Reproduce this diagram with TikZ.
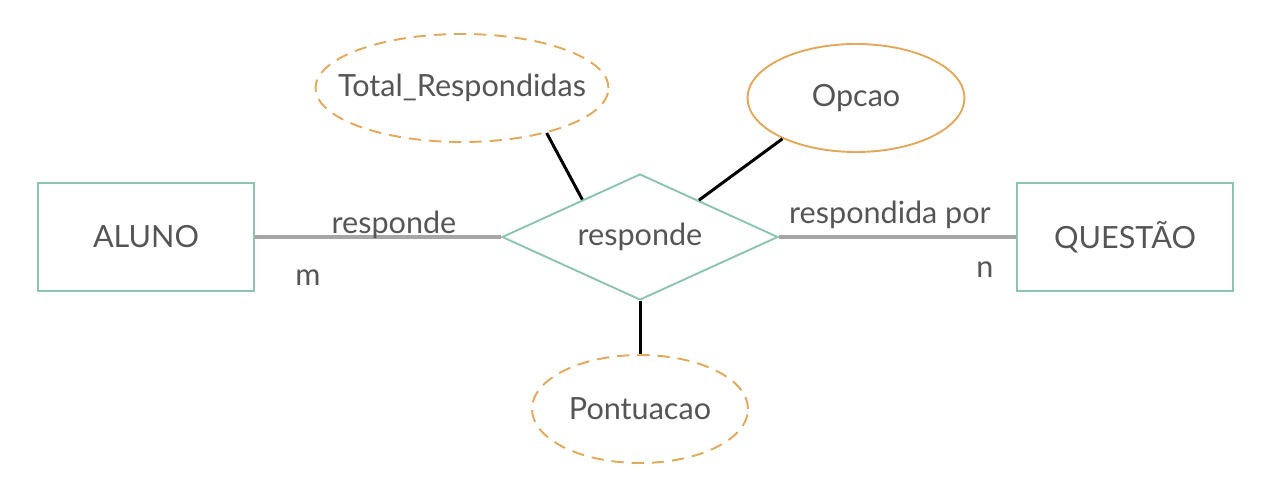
\documentclass[tikz,border=0pt]{standalone}
\usepackage{fontspec}
\setmainfont{Lato}
\usetikzlibrary{shapes.geometric}

\definecolor{entcor}{HTML}{8CC3B3}
\definecolor{atrcor}{HTML}{E2A95D}
\definecolor{txtcor}{HTML}{555555}
\definecolor{relcor}{HTML}{A5A5A5}

\begin{document}
\begin{tikzpicture}[
    entidade/.style={rectangle, draw=entcor, line width=1.1pt, minimum width=4.32cm, minimum height=2.16cm},
    relacao/.style={diamond, draw=entcor, line width=1.1pt, inner sep=0pt, minimum width=5.52cm, minimum height=2.52cm},
    atributo/.style={ellipse, draw=atrcor, line width=1.1pt, inner sep=0pt, minimum height=2.16cm},
    tracejado/.style={dash pattern=on 7pt off 4.5pt},
    valor/.style={text=txtcor, font=\fontsize{17.4}{20}\selectfont},
    rotulo/.style={text=txtcor, font=\fontsize{17.4}{20}\selectfont, anchor=base},
    ligacao/.style={draw=relcor, line width=2.4pt},
    haste/.style={draw=black, line width=1.7pt}
  ]
    \useasboundingbox (0, 0) rectangle (25.5, -10.02);

    \node[entidade] (A) at (2.92, -4.74) {};
    \node[entidade] (Q) at (22.5, -4.74) {};
    \node[relacao] (R) at (12.8, -4.74) {};
    \node[atributo, tracejado, minimum width=5.86cm] (T) at (9.24, -1.76) {};
    \node[atributo, minimum width=4.34cm] (O) at (17.12, -1.96) {};
    \node[atributo, tracejado, minimum width=4.32cm] (P) at (12.8, -8.18) {};

    % linhas
    \draw[ligacao] (A) -- (R);
    \draw[ligacao] (R) -- (Q);
    \draw[haste] (T.-28) -- (R.147.5);
    \draw[haste] (O.-151) -- (R.32);
    \draw[haste] (R.south) -- (P.north);

    % valores
    \node[valor] (tA) at (A) {ALUNO};
    \node[valor] (tQ) at (Q) {QUESTÃO};
    \node[valor] (tR) at (R) {responde};
    \node[valor] (tT) at (T) {Total\_Respondidas};
    \node[valor] (tO) at (O) {Opcao};
    \node[valor] (tP) at (P) {Pontuacao};

    % cardinalidades
    \node[rotulo] (l1) at (7.88, -4.66) {responde};
    \node[rotulo] (m1) at (6.16, -5.70) {m};
    \node[rotulo] (l2) at (17.8, -4.46) {respondida por};
    \node[rotulo] (n1) at (19.7, -5.54) {n};

  \end{tikzpicture}
\end{document}
